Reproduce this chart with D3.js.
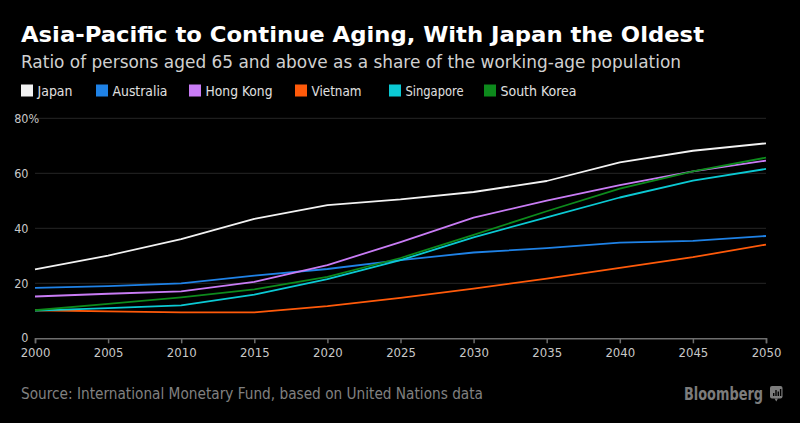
<!DOCTYPE html>
<html>
<head>
<meta charset="utf-8">
<script src="https://cdn.jsdelivr.net/npm/d3@7"></script>
<style>
  html, body { margin: 0; padding: 0; background: #000; }
  svg { display: block; }
  text { font-family: "DejaVu Sans Condensed", "DejaVu Sans", sans-serif; }
</style>
</head>
<body>
<svg id="chart" width="800" height="423"></svg>
<script>
// ---- Data ----
const years = [2000, 2005, 2010, 2015, 2020, 2025, 2030, 2035, 2040, 2045, 2050];
const seriesNames = ["Japan", "Australia", "Hong Kong", "Vietnam", "Singapore", "South Korea"];
const japan      = [25.1, 30.1, 36.1, 43.4, 48.4, 50.5, 53.2, 57.2, 64.0, 68.2, 70.9];
const australia  = [18.3, 19.0, 20.0, 22.8, 25.2, 28.4, 31.2, 32.8, 34.8, 35.4, 37.2];
const hongKong   = [15.2, 16.2, 17.1, 20.5, 26.6, 35.0, 43.9, 50.1, 55.7, 60.7, 64.6];
const vietnam    = [10.2, 9.8, 9.4, 9.4, 11.7, 14.7, 18.1, 21.7, 25.6, 29.5, 34.1];
const singapore  = [10.1, 11.0, 12.0, 15.9, 21.5, 28.4, 36.7, 44.0, 51.2, 57.3, 61.6];
const southKorea = [10.2, 12.5, 14.9, 17.8, 22.3, 29.2, 37.6, 46.2, 54.4, 60.7, 65.7];
const yTicks = [0, 20, 40, 60, 80];
const xTicks = years;

const title = "Asia-Pacific to Continue Aging, With Japan the Oldest";
const subtitle = "Ratio of persons aged 65 and above as a share of the working-age population";
const source = "Source: International Monetary Fund, based on United Nations data";

// ---- Styles / layout ----
const colors = ["#f2f2f2", "#1f82e6", "#c97cf5", "#ff5a0a", "#0bc9d3", "#0d8a1c"];
const legendX = [21, 96, 189, 295, 389, 484];
const legendTextW = [35, 55, 67, 50, 58, 76];

const allValues = [japan, australia, hongKong, vietnam, singapore, southKorea];
const series = seriesNames.map((name, i) => ({
  name, color: colors[i],
  values: years.map((y, j) => ({ year: y, value: allValues[i][j] }))
}));

const svg = d3.select("#chart");
svg.append("rect").attr("width", 800).attr("height", 423).attr("fill", "#000");

const x = d3.scaleLinear().domain([2000, 2050]).range([35, 766]);
const y = d3.scaleLinear().domain([0, 80]).range([338.3, 118.3]);

// Title & subtitle
svg.append("text").attr("x", 21).attr("y", 42.3)
  .attr("fill", "#ffffff").attr("font-size", 22).attr("font-weight", "bold")
  .attr("textLength", 683).attr("lengthAdjust", "spacingAndGlyphs")
  .text(title);
svg.append("text").attr("x", 21).attr("y", 67.7)
  .attr("fill", "#d0d0d0").attr("font-size", 18)
  .attr("textLength", 660).attr("lengthAdjust", "spacingAndGlyphs")
  .text(subtitle);

// Legend
const leg = svg.append("g");
series.forEach((s, i) => {
  leg.append("rect").attr("x", legendX[i]).attr("y", 84.5)
    .attr("width", 12).attr("height", 12).attr("fill", s.color);
  leg.append("text").attr("x", legendX[i] + 16.5).attr("y", 95.5)
    .attr("fill", "#e0e0e0").attr("font-size", 14.5)
    .attr("textLength", legendTextW[i]).attr("lengthAdjust", "spacingAndGlyphs")
    .text(s.name);
});

// Gridlines
svg.append("g").selectAll("line").data(yTicks.filter(d => d > 0)).join("line")
  .attr("x1", 35).attr("x2", 766)
  .attr("y1", d => y(d)).attr("y2", d => y(d))
  .attr("stroke", "#262626").attr("stroke-width", 1);

// Y labels
const yl = svg.append("g");
yTicks.forEach(t => {
  yl.append("text").attr("x", 28.5).attr("y", y(t) - (t === 0 ? 1 : 0)).attr("dy", "0.35em")
    .attr("text-anchor", "end").attr("fill", "#c8c8c8").attr("font-size", 12.5)
    .text(t);
  if (t === 80) {
    yl.append("text").attr("x", 28.5).attr("y", y(t)).attr("dy", "0.35em")
      .attr("fill", "#c8c8c8").attr("font-size", 12.5).text("%");
  }
});

// X axis
const xAxis = d3.axisBottom(x).tickValues(xTicks).tickFormat(d3.format("d")).tickSize(5).tickPadding(4);
const gx = svg.append("g").attr("transform", `translate(0,${y(0)})`).call(xAxis);
gx.select(".domain").attr("stroke", "#6e6e6e").attr("stroke-width", 1.5);
gx.selectAll(".tick line").attr("stroke", "#6e6e6e").attr("stroke-width", 1.5);
gx.selectAll(".tick text").attr("fill", "#c8c8c8").attr("font-size", 13)
  .attr("font-family", "\"DejaVu Sans Condensed\", \"DejaVu Sans\", sans-serif");

// Lines
const line = d3.line().x(d => x(d.year)).y(d => y(d.value));
svg.append("g").selectAll("path").data(series).join("path")
  .attr("d", d => line(d.values))
  .attr("fill", "none")
  .attr("stroke", d => d.color)
  .attr("stroke-width", 1.8)
  .attr("stroke-linejoin", "round");

// Source
svg.append("text").attr("x", 21).attr("y", 398.5)
  .attr("fill", "#808080").attr("font-size", 15)
  .attr("textLength", 462).attr("lengthAdjust", "spacingAndGlyphs")
  .text(source);

// Bloomberg logo
svg.append("text").attr("x", 684).attr("y", 400)
  .attr("fill", "#7c7c7c").attr("font-size", 17).attr("font-weight", "bold")
  .attr("textLength", 79).attr("lengthAdjust", "spacingAndGlyphs")
  .text("Bloomberg");
const logo = svg.append("g").attr("transform", "translate(770,386)");
logo.append("rect").attr("width", 12.5).attr("height", 12.5).attr("rx", 2).attr("fill", "#7c7c7c");
logo.append("path").attr("d", "M4.5,12.5 L6.25,15.5 L8,12.5 Z").attr("fill", "#7c7c7c");
[[3, 7, 3], [5.3, 4, 6], [7.6, 5.5, 4.5], [9.9, 3, 7]].forEach(b => {
  logo.append("rect").attr("x", b[0]).attr("y", b[1]).attr("width", 1.4).attr("height", b[2]).attr("fill", "#000");
});
</script>
</body>
</html>
